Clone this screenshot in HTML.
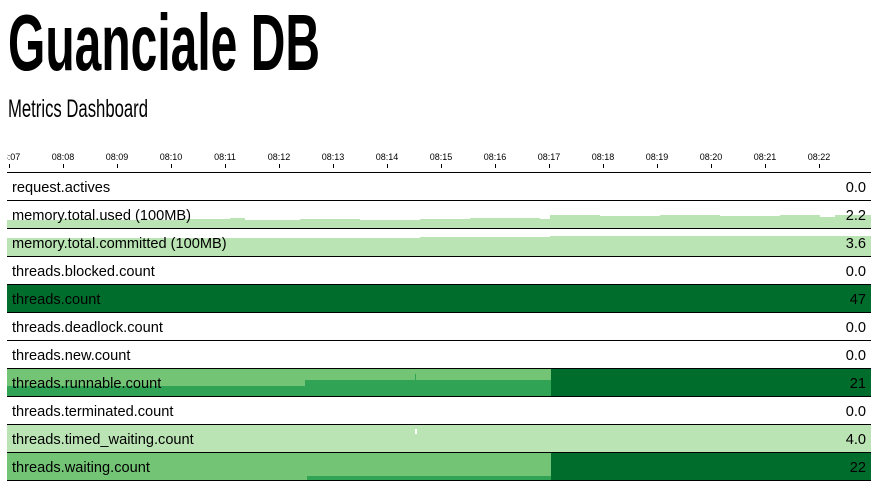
<!DOCTYPE html>
<html><head><meta charset="utf-8"><style>
html,body{margin:0;padding:0;background:#fff;width:881px;height:497px;overflow:hidden}
svg{display:block}
.l{font-family:"Liberation Sans",sans-serif;font-size:14.6px;fill:#000}
.t{font-family:"Liberation Sans",sans-serif;font-size:9px;fill:#000}
</style></head><body>
<svg width="881" height="497" xmlns="http://www.w3.org/2000/svg">
<text x="8" y="70" font-family="Liberation Sans,sans-serif" font-weight="bold" font-size="80" textLength="312" lengthAdjust="spacingAndGlyphs">Guanciale DB</text>
<text x="8" y="117" font-family="Liberation Sans,sans-serif" font-size="25" textLength="140" lengthAdjust="spacingAndGlyphs">Metrics Dashboard</text>
<g class="t" text-anchor="middle">
<text x="9" y="160">08:07</text>
<text x="63" y="160">08:08</text><text x="117" y="160">08:09</text><text x="171" y="160">08:10</text>
<text x="225" y="160">08:11</text><text x="279" y="160">08:12</text><text x="333" y="160">08:13</text>
<text x="387" y="160">08:14</text><text x="441" y="160">08:15</text><text x="495" y="160">08:16</text>
<text x="549" y="160">08:17</text><text x="603" y="160">08:18</text><text x="657" y="160">08:19</text>
<text x="711" y="160">08:20</text><text x="765" y="160">08:21</text><text x="819" y="160">08:22</text>
</g>
<rect x="0" y="140" width="7" height="25" fill="#fff"/>
<g stroke="#000" stroke-width="1">
<path d="M9.5 164v4M63.5 164v4M117.5 164v4M171.5 164v4M225.5 164v4M279.5 164v4M333.5 164v4M387.5 164v4M441.5 164v4M495.5 164v4M549.5 164v4M603.5 164v4M657.5 164v4M711.5 164v4M765.5 164v4M819.5 164v4"/>
</g>
<path d="M7 228V220H60V219H120V220H180V219H230V218H245V220H300V219H360V220H420V219H470V218H540V219H550V215H600V216H660V215H720V216H780V215H820V217H835V215H871V228Z" fill="#bae4b3"/>
<path d="M7 256V238H420V237H550V236H871V256Z" fill="#bae4b3"/>
<rect x="7" y="285" width="864" height="27" fill="#006d2c"/>
<rect x="7" y="369" width="544" height="27" fill="#74c476"/>
<path d="M7 396V386H305V380H551V396Z" fill="#31a354"/>
<rect x="415" y="374" width="1" height="6" fill="#31a354"/>
<rect x="551" y="369" width="320" height="27" fill="#006d2c"/>
<rect x="7" y="425" width="864" height="27" fill="#bae4b3"/>
<rect x="415" y="429" width="2" height="5" fill="#fff"/>
<rect x="7" y="453" width="544" height="27" fill="#74c476"/>
<rect x="307" y="476" width="244" height="4" fill="#31a354"/>
<rect x="551" y="453" width="320" height="27" fill="#006d2c"/>
<g fill="#000">
<rect x="7" y="172" width="864" height="1"/><rect x="7" y="200" width="864" height="1"/>
<rect x="7" y="228" width="864" height="1"/><rect x="7" y="256" width="864" height="1"/>
<rect x="7" y="284" width="864" height="1"/><rect x="7" y="312" width="864" height="1"/>
<rect x="7" y="340" width="864" height="1"/><rect x="7" y="368" width="864" height="1"/>
<rect x="7" y="396" width="864" height="1"/><rect x="7" y="424" width="864" height="1"/>
<rect x="7" y="452" width="864" height="1"/><rect x="7" y="480" width="864" height="1"/>
</g>
<g class="l">
<text x="12" y="192">request.actives</text>
<text x="12" y="220">memory.total.used (100MB)</text>
<text x="12" y="248">memory.total.committed (100MB)</text>
<text x="12" y="276">threads.blocked.count</text>
<text x="12" y="304">threads.count</text>
<text x="12" y="332">threads.deadlock.count</text>
<text x="12" y="360">threads.new.count</text>
<text x="12" y="388">threads.runnable.count</text>
<text x="12" y="416">threads.terminated.count</text>
<text x="12" y="444">threads.timed_waiting.count</text>
<text x="12" y="472">threads.waiting.count</text>
</g>
<g class="l" text-anchor="end">
<text x="866" y="192">0.0</text><text x="866" y="220">2.2</text><text x="866" y="248">3.6</text>
<text x="866" y="276">0.0</text><text x="866" y="304">47</text><text x="866" y="332">0.0</text>
<text x="866" y="360">0.0</text><text x="866" y="388">21</text><text x="866" y="416">0.0</text>
<text x="866" y="444">4.0</text><text x="866" y="472">22</text>
</g>
</svg>
</body></html>
